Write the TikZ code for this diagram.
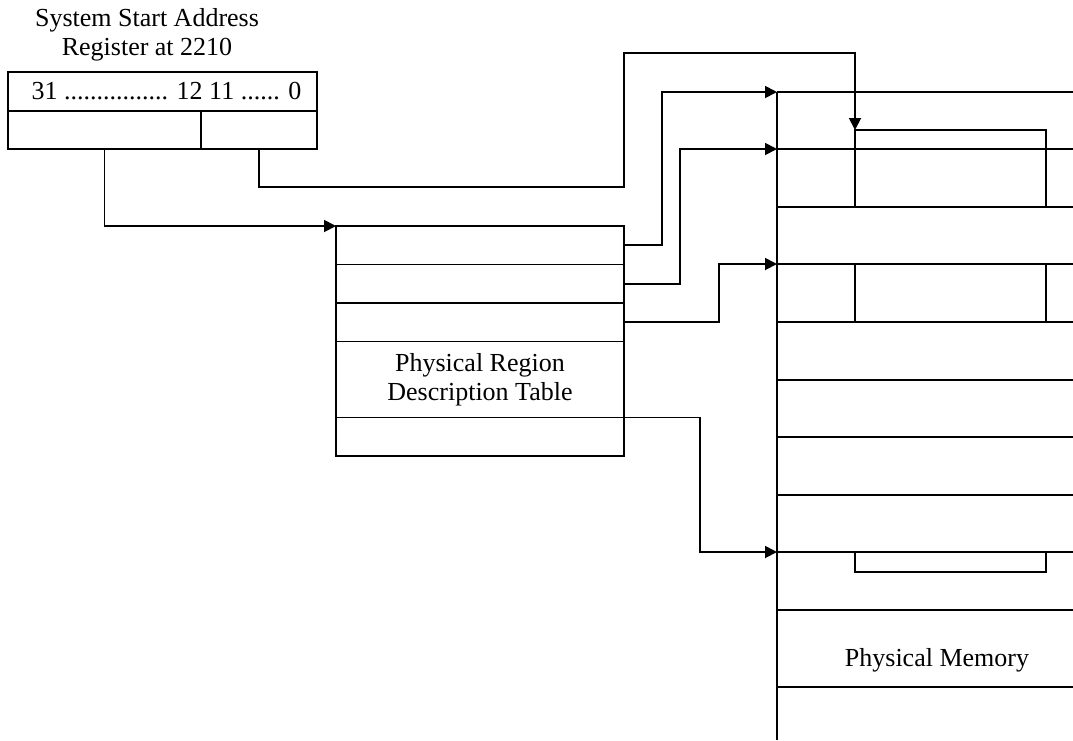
\documentclass[tikz,border=0pt]{standalone}
\usepackage{fontspec}
\setmainfont{Liberation Serif}
\usetikzlibrary{arrows.meta, positioning}

\begin{document}
\begin{tikzpicture}[
    x=1pt, y=-1pt,
    font=\fontsize{26}{29}\selectfont,
    reg_cell/.style={rectangle, draw, line width=1.8pt, minimum height=38pt, inner sep=0pt, outer sep=0pt},
    table_row/.style={rectangle, draw, line width=1.8pt, minimum width=288pt, minimum height=38.5pt, inner sep=0pt, outer sep=0pt, align=center},
    region_box/.style={rectangle, draw, line width=1.8pt, minimum width=191pt, inner sep=0pt, outer sep=0pt},
    mem_line/.style={line width=1.8pt},
    arrow/.style={-{Triangle[length=12pt, width=12pt]}, line width=1.8pt}
]

\useasboundingbox (0,0) rectangle (1073,740);

% Register
\node[align=center] (regtitle) at (147,35) {System Start Address\\Register at 2210};
\node[reg_cell, minimum width=309pt, minimum height=39pt] (regbits) at (162.5,91.5) {\hspace{8pt}31 ................ 12 11 ...... 0};
\node[reg_cell, minimum width=193pt, anchor=north west] (reghigh) at (regbits.south west) {};
\node[reg_cell, minimum width=116pt, anchor=north west] (reglow) at (reghigh.north east) {};

% Table
\node[table_row] (prd1) at (480,245.25) {};
\node[table_row, below=0pt of prd1] (prd2) {};
\node[table_row, below=0pt of prd2] (prd3) {};
\node[table_row, minimum height=76pt, below=0pt of prd3] (prd4) {Physical Region\\Description Table};
\node[table_row, below=0pt of prd4] (prd5) {};

% Memory
\foreach \y [count=\i from 0] in {92,149,207,264,322,380,437,495,552,610,687} {
    \coordinate (mem\i) at (777,\y);
    \draw[mem_line] (mem\i) -- (1073,\y);
}
\draw[mem_line] (mem0) -- (777,740);

\node[region_box, minimum height=77pt, anchor=north west] (region1) at (855,130) {};
\node[region_box, minimum height=58pt, anchor=north west] (region2) at (855,264) {};
\node[region_box, minimum height=20pt, anchor=north west] (region3) at (855,552) {};

\node (memlabel) at (937,660) {Physical Memory};

% Connections
\draw[arrow] (reghigh.south) |- (prd1.north west);
\draw[arrow] (reglow.south) -- ++(0,38) -- ++(365,0) -- ++(0,-134) -| (region1.north west);
\draw[arrow] (prd1.east) -- ++(38,0) |- (mem0);
\draw[arrow] (prd2.east) -- ++(56,0) |- (mem1);
\draw[arrow] (prd3.east) -- ++(95,0) |- (mem3);
\draw[arrow] (prd5.north east) -- ++(76,0) |- (mem8);

\end{tikzpicture}
\end{document}
